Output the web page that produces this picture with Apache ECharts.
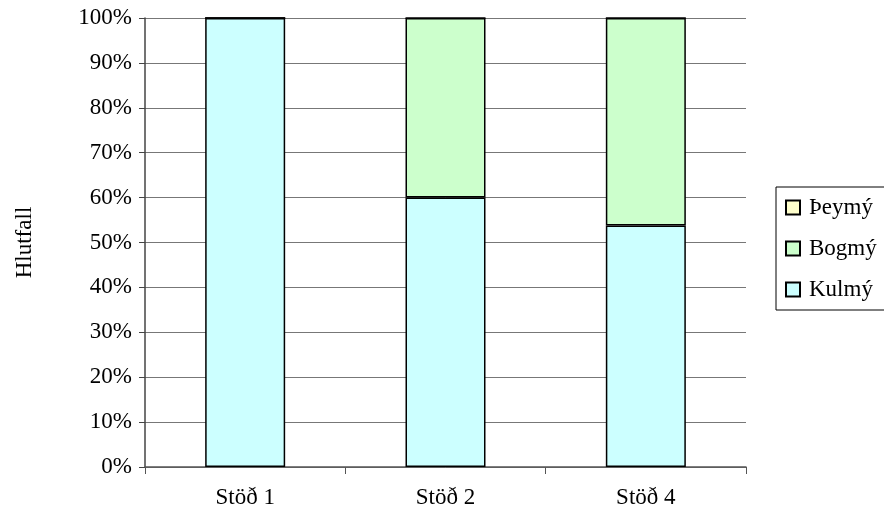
<!DOCTYPE html>
<html><head><meta charset="utf-8">
<script src="https://cdn.jsdelivr.net/npm/echarts@6/dist/echarts.min.js"></script>
<style>html,body{margin:0;padding:0;background:#fff}#c{width:884px;height:519px}</style>
</head><body><div id="c"></div>
<script>
const categories = ["Stöð 1", "Stöð 2", "Stöð 4"];
const kulmy = [100, 60, 53.8];
const bogmy = [0, 40, 46.2];
const peymy = [0, 0, 0];
const yTicks = [0, 10, 20, 30, 40, 50, 60, 70, 80, 90, 100];

const font = "'Liberation Serif', 'DejaVu Serif', serif";
const fs = 23;
const chart = echarts.init(document.getElementById('c'), null, {renderer: 'canvas'});
const barStyle = (c) => ({color: c, borderColor: '#000', borderWidth: 1.5});
chart.setOption({
  animation: false,
  textStyle: {fontFamily: font},
  grid: {left: 145, right: 138, top: 18, bottom: 52},
  legend: {
    data: ['Þeymý', 'Bogmý', 'Kulmý'],
    orient: 'vertical',
    left: 776, top: 187,
    padding: [9, 40, 9, 9],
    itemGap: 18,
    itemWidth: 14, itemHeight: 14,
    icon: 'rect',
    borderColor: '#000', borderWidth: 1,
    textStyle: {fontFamily: font, fontSize: fs, color: '#000', lineHeight: 22, padding: [0, 0, 0, 4]}
  },
  xAxis: {
    type: 'category', data: categories,
    axisLine: {lineStyle: {color: '#555', width: 1.5}},
    axisTick: {show: true, length: 7, lineStyle: {color: '#555'}},
    axisLabel: {fontFamily: font, fontSize: fs, color: '#000', margin: 19}
  },
  yAxis: {
    type: 'value', min: 0, max: 100, interval: 10,
    name: 'Hlutfall', nameLocation: 'middle', nameGap: 109, nameRotate: 90,
    nameTextStyle: {fontFamily: font, fontSize: fs, color: '#000'},
    axisLine: {show: true, lineStyle: {color: '#444', width: 1.5}},
    axisTick: {show: true, length: 6, lineStyle: {color: '#444'}},
    splitLine: {lineStyle: {color: '#777', width: 1}},
    axisLabel: {fontFamily: font, fontSize: fs, color: '#000', margin: 13,
      formatter: v => yTicks.includes(v) ? v + '%' : ''}
  },
  series: [
    {name: 'Kulmý', type: 'bar', stack: 's', data: kulmy, barWidth: 80, itemStyle: barStyle('#CCFFFF')},
    {name: 'Bogmý', type: 'bar', stack: 's', data: bogmy, barWidth: 80, itemStyle: barStyle('#CCFFCC')},
    {name: 'Þeymý', type: 'bar', stack: 's', data: peymy, barWidth: 80, itemStyle: barStyle('#FFFFCC')}
  ]
});
</script></body></html>
